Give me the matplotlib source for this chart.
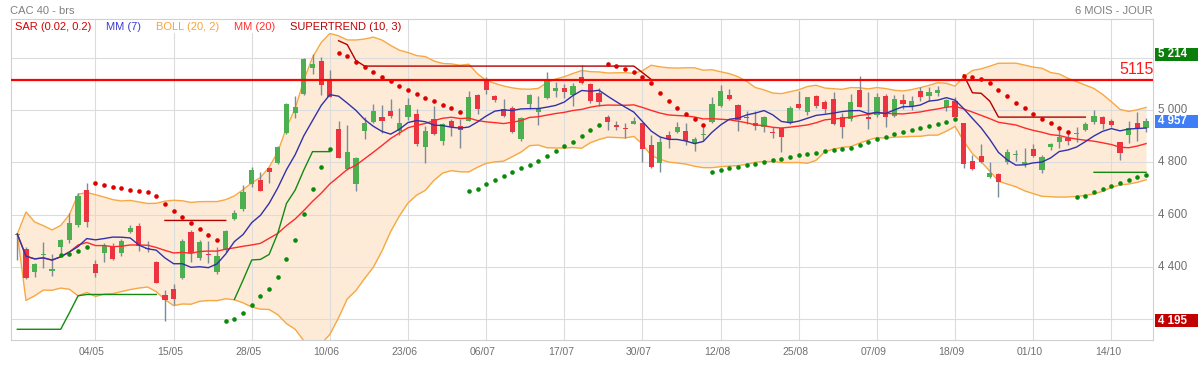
import numpy as np
import pandas as pd
import matplotlib
matplotlib.use("Agg")
import matplotlib.pyplot as plt
import matplotlib.transforms as mtransforms
from matplotlib.patches import Rectangle

# ---------------- data (CAC 40, daily, 20/04 -> 20/10) ----------------
opens = [4524, 4467, 4380, 4444, 4383, 4475, 4503, 4562, 4693, 4410,
         4452, 4481, 4455, 4535, 4558, 4472, 4418, 4292, 4315, 4359,
         4532, 4433, 4446, 4380, 4465, 4583, 4620, 4716, 4732, 4777,
         4796, 4911, 4990, 5061, 5159, 5186, 5112, 4926, 4773, 4717,
         4921, 4953, 4975, 4996, 4921, 4972, 4983, 4857, 4964, 4883,
         4957, 4939, 4959, 5057, 5120, 5054, 5004, 5006, 4890, 5025,
         4991, 5045, 5074, 5085, 5057, 5127, 5098, 5064, 4972, 4941,
         4931, 4948, 4949, 4865, 4796, 4904, 4915, 4918, 4875, 4903,
         4953, 5017, 5056, 5018, 4975, 4949, 4934, 4916, 4930, 4949,
         5022, 4991, 5054, 5029, 5041, 4972, 4967, 5075, 4973, 4980,
         5054, 4978, 5038, 5015, 5073, 5054, 5064, 5010, 5036, 4949,
         4806, 4824, 4743, 4755, 4803, 4828, 4792, 4850, 4771, 4860,
         4879, 4892, 4908, 4924, 4953, 4975, 4958, 4879, 4904, 4952,
         4930]
highs = [4529, 4475, 4414, 4494, 4448, 4506, 4605, 4682, 4722, 4427,
         4493, 4490, 4506, 4560, 4567, 4499, 4423, 4312, 4334, 4506,
         4541, 4503, 4499, 4478, 4541, 4618, 4713, 4783, 4764, 4783,
         4862, 5028, 5054, 5199, 5214, 5201, 5153, 4959, 4943, 4822,
         4975, 5022, 5019, 5041, 5006, 5045, 5003, 4939, 5015, 4949,
         4967, 4964, 5074, 5061, 5127, 5057, 5043, 5015, 4972, 5061,
         5054, 5147, 5108, 5098, 5102, 5171, 5102, 5083, 4981, 4958,
         4949, 4975, 4952, 4904, 4896, 4920, 4953, 4949, 4896, 4936,
         5051, 5096, 5080, 5022, 4997, 4997, 4977, 4936, 4936, 5015,
         5074, 5051, 5056, 5038, 5070, 4990, 5061, 5130, 5070, 5064,
         5061, 5057, 5061, 5054, 5089, 5089, 5092, 5041, 5048, 4952,
         4828, 4870, 4803, 4758, 4850, 4847, 4853, 4870, 4828, 4875,
         4924, 4911, 4934, 4953, 5000, 4978, 4964, 4879, 4958, 4994,
         4968]
lows = [4427, 4353, 4363, 4397, 4366, 4452, 4493, 4554, 4554, 4363,
        4420, 4427, 4443, 4529, 4462, 4456, 4338, 4195, 4255, 4354,
        4420, 4427, 4414, 4373, 4459, 4580, 4615, 4707, 4690, 4722,
        4794, 4908, 4968, 5059, 5138, 5057, 5048, 4815, 4771, 4692,
        4890, 4949, 4913, 4968, 4904, 4962, 4862, 4796, 4904, 4866,
        4901, 4853, 4957, 4983, 5061, 5032, 4975, 4913, 4883, 5003,
        4943, 5041, 5051, 5046, 5017, 5099, 5028, 5017, 4924, 4924,
        4892, 4946, 4803, 4777, 4764, 4856, 4911, 4866, 4845, 4885,
        4952, 5013, 5038, 4921, 4946, 4924, 4917, 4892, 4841, 4946,
        5003, 4981, 5006, 4987, 4941, 4894, 4959, 5010, 4929, 4975,
        4936, 4975, 5003, 5000, 5036, 5036, 5054, 4997, 4972, 4777,
        4771, 4796, 4739, 4669, 4794, 4806, 4783, 4822, 4758, 4847,
        4853, 4866, 4879, 4920, 4945, 4927, 4936, 4809, 4875, 4883,
        4917]
closes = [4526, 4357, 4410, 4447, 4392, 4503, 4567, 4671, 4571, 4376,
          4481, 4432, 4499, 4548, 4481, 4470, 4340, 4274, 4276, 4499,
          4452, 4497, 4444, 4442, 4538, 4608, 4688, 4771, 4692, 4762,
          4859, 5023, 5010, 5197, 5176, 5096, 5051, 4818, 4838, 4815,
          4952, 4996, 4958, 4978, 4949, 5018, 4869, 4918, 4907, 4945,
          4934, 4925, 5048, 5005, 5076, 5038, 4978, 4917, 4968, 5056,
          5006, 5115, 5084, 5068, 5092, 5102, 5036, 5032, 4955, 4936,
          4926, 4958, 4850, 4781, 4876, 4889, 4934, 4883, 4889, 4908,
          5025, 5073, 5041, 4962, 4971, 4939, 4975, 4911, 4896, 5006,
          5006, 5048, 5015, 5003, 4945, 4936, 5029, 5010, 4964, 5051,
          4972, 5041, 5022, 5034, 5051, 5069, 5076, 5038, 4975, 4794,
          4773, 4800, 4760, 4726, 4841, 4832, 4803, 4824, 4822, 4870,
          4898, 4883, 4911, 4945, 4978, 4946, 4943, 4837, 4932, 4926,
          4957]

nan = np.nan
sar = [nan, nan, nan, nan, nan, 4447, 4451, 4462, 4476, 4722,
       4715, 4707, 4703, 4694, 4690, 4688, 4673, 4642, 4614, 4591,
       4569, 4546, 4522, 4503, 4194, 4201, 4223, 4255, 4289, 4316,
       4363, 4431, 4503, 4603, 4698, 4782, 4851, 5217, 5208, 5185,
       5166, 5147, 5127, 5111, 5093, 5078, 5062, 5047, 5036, 5020,
       5009, 4994, 4690, 4698, 4717, 4732, 4749, 4763, 4780, 4790,
       4806, 4825, 4843, 4864, 4879, 4902, 4925, 4944, 5175, 5170,
       5158, 5147, 5127, 5102, 5066, 5036, 5009, 4986, 4964, 4944,
       4764, 4772, 4780, 4783, 4791, 4795, 4803, 4810, 4814, 4822,
       4827, 4831, 4837, 4842, 4847, 4852, 4856, 4868, 4878, 4889,
       4898, 4908, 4917, 4925, 4932, 4939, 4948, 4955, 4964, 5131,
       5127, 5120, 5104, 5078, 5054, 5028, 5009, 4985, 4967, 4952,
       4932, 4917, 4669, 4673, 4687, 4698, 4710, 4721, 4734, 4745,
       4753]

# Supertrend (10, 3): visible support (green) and resistance (red) segments
st_up = [4162, 4162, 4162, 4162, 4162, 4162, 4225, 4290, 4295, 4295,
         4295, 4295, 4295, 4295, 4295, 4295, 4295, nan, nan, nan,
         nan, nan, nan, nan, nan, 4276, 4350, 4427, 4429, 4448,
         4529, 4643, 4694, 4771, 4841, 4841, 4841] + [nan] * 87 + \
        [4762, 4762, 4762, 4762, 4762, 4762, 4762]
st_down = [nan] * 17 + [4578] * 8 + [nan] * 12 + \
          [5265, 5250, 5189] + [5168] * 32 + [5143, 5117] + [nan] * 35 + \
          [5134, 5066, 5064, 5034] + [4973] * 11 + [nan] * 7

tick_labels = ["04/05", "15/05", "28/05", "10/06", "23/06", "06/07", "17/07",
               "30/07", "12/08", "25/08", "07/09", "18/09", "01/10", "14/10"]
y_labels = [5000, 4800, 4600, 4400]
level_line = 5115
period_high = 5214
period_low = 4195
last_close = 4957

# ---------------- indicators ----------------
cs = pd.Series(closes, dtype=float)
mm7 = cs.rolling(7, min_periods=1).mean()
mm20 = cs.rolling(20, min_periods=1).mean()
sd20 = cs.rolling(20, min_periods=1).std(ddof=0)
bb_up = mm20 + 2 * sd20
bb_lo = mm20 - 2 * sd20

# ---------------- figure ----------------
W, H = 1198, 373
plt.rcParams['font.family'] = ['Liberation Sans', 'DejaVu Sans']
fig = plt.figure(figsize=(W / 100, H / 100), dpi=100)
fig.patch.set_facecolor('white')
PL, PR, PT, PB = 11, 1153.3, 19, 340
ax = fig.add_axes([PL / W, 1 - PB / H, (PR - PL) / W, (PB - PT) / H])
ax.set_facecolor('white')
n = len(closes)
x = np.arange(n)
ax.set_xlim(-0.726, 130.83)
ax.set_ylim(4121, 5348)

grid_c = '#dcdcdc'
for v in range(4200, 5201, 200):
    ax.axhline(v, color=grid_c, lw=0.8, zorder=1)
tick_pos = [9 * (k + 1) for k in range(len(tick_labels))]
for tp in tick_pos:
    ax.axvline(tp, color=grid_c, lw=0.8, zorder=1)
for s in ax.spines.values():
    s.set_color('#d0d0d0')
    s.set_linewidth(0.8)
ax.set_xticks([])
ax.set_yticks([])

# Bollinger band
ax.fill_between(x, bb_lo, bb_up, color='#fdebd7', zorder=0.5, lw=0)
ax.plot(x, bb_up, color='#f7a843', lw=1.0, zorder=2)
ax.plot(x, bb_lo, color='#f7a843', lw=1.0, zorder=2)

# candles
up_c, dn_c, wick_c = '#4caf50', '#ec3340', '#7d8a98'
for i in range(n):
    o, h, l, c = opens[i], highs[i], lows[i], closes[i]
    ax.vlines(i, l, h, color=wick_c, lw=1.0, zorder=3)
    col = up_c if c > o else dn_c
    bot = min(o, c)
    ht = max(abs(c - o), 4)
    ax.bar(i, ht, bottom=bot, width=0.6, color=col, zorder=4, lw=0)

# moving averages
ax.plot(x, mm20, color='#ff2a2a', lw=1.0, zorder=5)
ax.plot(x, mm7, color='#3232a8', lw=1.0, zorder=5)

# supertrend
ax.plot(x, st_up, color='#128a12', lw=1.0, zorder=5)
ax.plot(x, st_down, color='#b40000', lw=1.0, zorder=5)

# parabolic SAR
sar_a = np.array(sar, dtype=float)
cl_a = np.array(closes, dtype=float)
bull = sar_a < cl_a
ax.plot(x[bull], sar_a[bull], 'o', color='#0a8a0a', ms=3.3, mew=0, zorder=6)
bear = sar_a > cl_a
ax.plot(x[bear], sar_a[bear], 'o', color='#dd0000', ms=3.3, mew=0, zorder=6)

# horizontal level
ax.axhline(level_line, color='#ff0000', lw=1.6, zorder=7)
ax.text(1.0, level_line + 12, str(level_line), transform=mtransforms.blended_transform_factory(ax.transAxes, ax.transData),
        ha='right', va='bottom', color='#ff1a1a', fontsize=11.5, zorder=8)

# ---------------- texts ----------------
def fx(px):
    return px / W

def fy(py):
    return 1 - py / H

fig.text(fx(10.5), fy(10.5), "CAC 40 - brs", color='#808080', fontsize=8, va='center', ha='left')
fig.text(fx(1152.5), fy(10.5), "6 MOIS - JOUR", color='#808080', fontsize=8, va='center', ha='right')

legend_items = [("SAR (0.02, 0.2)", '#d40000', 15),
                ("MM (7)", '#3c3cd0', 106),
                ("BOLL (20, 2)", '#f5a540', 156),
                ("MM (20)", '#ff3030', 234),
                ("SUPERTREND (10, 3)", '#c00000', 290)]
for txt, col, px in legend_items:
    fig.text(fx(px), fy(26.5), txt, color=col, fontsize=8, va='center', ha='left',
             bbox=dict(facecolor='white', edgecolor='none', pad=1.2), zorder=10)

# x tick labels
for tp, lab in zip(tick_pos, tick_labels):
    xp = 17.3 + 8.683 * tp - 3.5
    fig.text(fx(xp), fy(352), lab, color='#707070', fontsize=7.5, ha='center', va='center')

# right axis labels
bt = mtransforms.blended_transform_factory(fig.transFigure, ax.transData)
for v in y_labels:
    ax.text(fx(1158), v, f"{v // 1000} {v % 1000:03d}", transform=bt, color='#707070',
            fontsize=8.3, va='center', ha='left', clip_on=False)

box_h = 13 * (5348 - 4121) / (PB - PT)
for v, col in [(period_high, '#0b7d0b'), (last_close, '#3f7ef7'), (period_low, '#c20000')]:
    r = Rectangle((fx(1155), v - box_h / 2), fx(43), box_h, transform=bt,
                  facecolor=col, edgecolor='none', clip_on=False, zorder=9)
    ax.add_patch(r)
    ax.text(fx(1158), v, f"{v // 1000} {v % 1000:03d}", transform=bt, color='white',
            fontsize=8.3, fontweight='bold', va='center', ha='left', clip_on=False, zorder=10)

fig.savefig('out.png', dpi=100, facecolor='white')
